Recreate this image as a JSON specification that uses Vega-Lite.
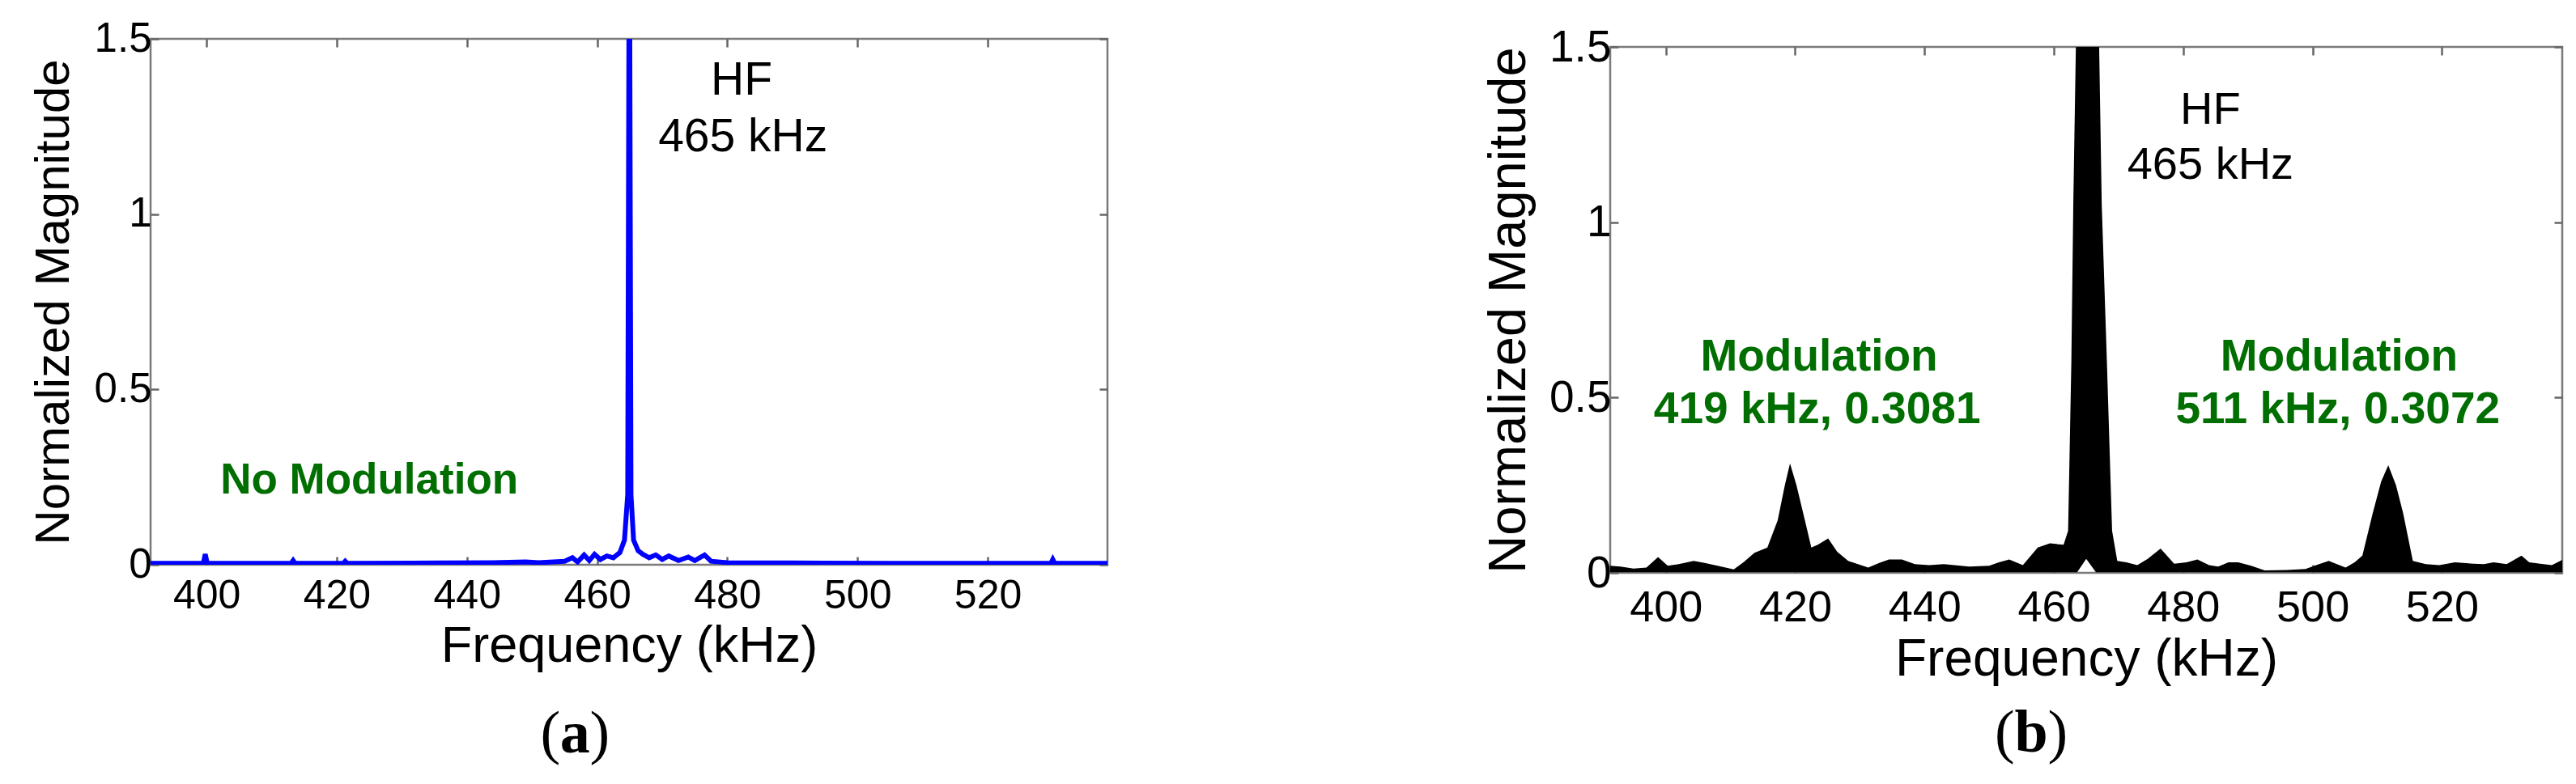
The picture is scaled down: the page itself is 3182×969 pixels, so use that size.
{
  "$schema": "https://vega.github.io/schema/vega-lite/v6.json",
  "background": "white",
  "padding": {"left": 34, "top": 20, "right": 5, "bottom": 5},
  "bounds": "flush",
  "spacing": 621,
  "config": {
    "view": {"stroke": "#7a7a7a", "strokeWidth": 2.5},
    "axis": {"domain": false, "grid": false, "tickColor": "#666666", "tickWidth": 2.5, "tickSize": -10,
      "labelColor": "#000000", "titleColor": "#000000", "labelFont": "Liberation Sans", "titleFont": "Liberation Sans",
      "titleFontWeight": "normal", "labelFlush": false, "labelOverlap": false}
  },
  "hconcat": [
    {
      "width": 1182, "height": 650,
      "layer": [
        {
          "data": {"values": [
            {"f": 391.4, "m": 0.004}, {"f": 399.5, "m": 0.004}, {"f": 399.8, "m": 0.03}, {"f": 400.1, "m": 0.004},
            {"f": 413, "m": 0.004}, {"f": 413.3, "m": 0.012}, {"f": 413.6, "m": 0.004}, {"f": 421, "m": 0.004},
            {"f": 421.3, "m": 0.01}, {"f": 421.6, "m": 0.004}, {"f": 436, "m": 0.005}, {"f": 444, "m": 0.006},
            {"f": 449, "m": 0.008}, {"f": 451, "m": 0.006}, {"f": 455, "m": 0.01}, {"f": 456.2, "m": 0.02},
            {"f": 457, "m": 0.008}, {"f": 458, "m": 0.028}, {"f": 458.8, "m": 0.012}, {"f": 459.6, "m": 0.03},
            {"f": 460.5, "m": 0.015}, {"f": 461.5, "m": 0.025}, {"f": 462.5, "m": 0.02}, {"f": 463.5, "m": 0.035},
            {"f": 464.2, "m": 0.07}, {"f": 464.7, "m": 0.2}, {"f": 464.95, "m": 2.0}, {"f": 465.2, "m": 0.2},
            {"f": 465.6, "m": 0.07}, {"f": 466.3, "m": 0.04}, {"f": 467, "m": 0.03}, {"f": 468, "m": 0.02},
            {"f": 469, "m": 0.028}, {"f": 470, "m": 0.015}, {"f": 471, "m": 0.025}, {"f": 472.5, "m": 0.012},
            {"f": 474, "m": 0.022}, {"f": 475, "m": 0.012}, {"f": 476.5, "m": 0.028}, {"f": 477.5, "m": 0.01},
            {"f": 480, "m": 0.006}, {"f": 490, "m": 0.005}, {"f": 505, "m": 0.004}, {"f": 520, "m": 0.004},
            {"f": 529.7, "m": 0.004}, {"f": 530, "m": 0.015}, {"f": 530.3, "m": 0.004}, {"f": 538.4, "m": 0.004}
          ]},
          "mark": {"type": "line", "color": "#0000ff", "strokeWidth": 6, "clip": true},
          "encoding": {
            "x": {"field": "f", "type": "quantitative", "scale": {"domain": [391.4, 538.4], "nice": false, "zero": false},
              "axis": {"orient": "bottom", "title": "Frequency (kHz)", "values": [400, 420, 440, 460, 480, 500, 520],
                "labelFontSize": 50, "labelPadding": 23, "titleFontSize": 63, "titlePadding": 6}},
            "y": {"field": "m", "type": "quantitative", "scale": {"domain": [0, 1.5], "nice": false, "zero": false},
              "axis": {"orient": "left", "title": "Normalized Magnitude", "values": [0, 0.5, 1, 1.5], "labelExpr": "'' + datum.value",
                "labelFontSize": 51, "labelPadding": 9, "titleFontSize": 60, "titlePadding": 19}}
          }
        },
        {
          "data": {"values": [
            {"f": 482.2, "m": 1.38, "t": "HF"},
            {"f": 482.4, "m": 1.218, "t": "465 kHz"}
          ]},
          "mark": {"type": "text", "font": "Liberation Sans", "fontSize": 57, "color": "#000000", "align": "center", "baseline": "middle"},
          "encoding": {
            "x": {"field": "f", "type": "quantitative", "scale": {"domain": [391.4, 538.4], "nice": false, "zero": false},
              "axis": {"orient": "top", "labels": false, "title": null, "values": [400, 420, 440, 460, 480, 500, 520]}},
            "y": {"field": "m", "type": "quantitative", "scale": {"domain": [0, 1.5], "nice": false, "zero": false},
              "axis": {"orient": "right", "labels": false, "title": null, "values": [0, 0.5, 1, 1.5]}},
            "text": {"field": "t"}
          }
        },
        {
          "data": {"values": [{"f": 425.0, "m": 0.239, "t": "No Modulation"}]},
          "mark": {"type": "text", "font": "Liberation Sans", "fontSize": 53, "fontWeight": "bold", "color": "#006e00", "align": "center", "baseline": "middle"},
          "encoding": {
            "x": {"field": "f", "type": "quantitative", "axis": null},
            "y": {"field": "m", "type": "quantitative", "axis": null},
            "text": {"field": "t"}
          }
        },
        {
          "data": {"values": [{"f": 452.8, "m": -0.485, "t": "("}, {"f": 460.4, "m": -0.485, "t": ")"}]},
          "mark": {"type": "text", "font": "Liberation Serif", "fontSize": 74, "color": "#000000", "align": "center", "baseline": "middle"},
          "encoding": {
            "x": {"field": "f", "type": "quantitative", "axis": null},
            "y": {"field": "m", "type": "quantitative", "axis": null},
            "text": {"field": "t"}
          }
        },
        {
          "data": {"values": [{"f": 456.6, "m": -0.485, "t": "a"}]},
          "mark": {"type": "text", "font": "Liberation Serif", "fontSize": 74, "fontWeight": "bold", "color": "#000000", "align": "center", "baseline": "middle"},
          "encoding": {
            "x": {"field": "f", "type": "quantitative", "axis": null},
            "y": {"field": "m", "type": "quantitative", "axis": null},
            "text": {"field": "t"}
          }
        }
      ],
      "resolve": {"axis": {"x": "independent", "y": "independent"}}
    },
    {
      "vconcat": [
        {
          "width": 1176, "height": 10,
          "view": {"stroke": null},
          "data": {"values": [{"t": ""}]},
          "mark": {"type": "text"},
          "encoding": {"text": {"field": "t"}}
        },
        {
          "width": 1176, "height": 650,
          "layer": [
            {
              "data": {"values": [
                {"f": 391.4, "hi": 0.02, "lo": 0.002}, {"f": 393, "hi": 0.018, "lo": 0.002}, {"f": 395, "hi": 0.012, "lo": 0.002},
                {"f": 397, "hi": 0.015, "lo": 0.002}, {"f": 398.8, "hi": 0.045, "lo": 0.002}, {"f": 400.3, "hi": 0.02, "lo": 0.002},
                {"f": 402, "hi": 0.025, "lo": 0.002}, {"f": 404.3, "hi": 0.034, "lo": 0.002}, {"f": 406, "hi": 0.028, "lo": 0.002},
                {"f": 408, "hi": 0.02, "lo": 0.002}, {"f": 410.5, "hi": 0.01, "lo": 0.002}, {"f": 412, "hi": 0.03, "lo": 0.002},
                {"f": 413.7, "hi": 0.057, "lo": 0.002}, {"f": 415.7, "hi": 0.072, "lo": 0.002}, {"f": 417.3, "hi": 0.15, "lo": 0.002},
                {"f": 418.4, "hi": 0.25, "lo": 0.002}, {"f": 419.2, "hi": 0.312, "lo": 0.002}, {"f": 420.2, "hi": 0.25, "lo": 0.002},
                {"f": 421.5, "hi": 0.15, "lo": 0.002}, {"f": 422.5, "hi": 0.072, "lo": 0.002}, {"f": 423.5, "hi": 0.08, "lo": 0.002},
                {"f": 425.1, "hi": 0.098, "lo": 0.002}, {"f": 426.5, "hi": 0.06, "lo": 0.002}, {"f": 428.2, "hi": 0.034, "lo": 0.002},
                {"f": 431.3, "hi": 0.015, "lo": 0.002}, {"f": 433, "hi": 0.028, "lo": 0.002}, {"f": 434.5, "hi": 0.038, "lo": 0.002},
                {"f": 436.5, "hi": 0.038, "lo": 0.002}, {"f": 438.5, "hi": 0.025, "lo": 0.002}, {"f": 440.7, "hi": 0.022, "lo": 0.002},
                {"f": 443, "hi": 0.025, "lo": 0.002}, {"f": 446.9, "hi": 0.018, "lo": 0.002}, {"f": 450, "hi": 0.02, "lo": 0.002},
                {"f": 451.5, "hi": 0.03, "lo": 0.002}, {"f": 453.1, "hi": 0.038, "lo": 0.002}, {"f": 455.2, "hi": 0.022, "lo": 0.002},
                {"f": 456.5, "hi": 0.05, "lo": 0.002}, {"f": 457.5, "hi": 0.072, "lo": 0.002}, {"f": 459.4, "hi": 0.084, "lo": 0.002},
                {"f": 461.5, "hi": 0.08, "lo": 0.002}, {"f": 462.2, "hi": 0.12, "lo": 0.002}, {"f": 462.7, "hi": 0.6, "lo": 0.002},
                {"f": 463.0, "hi": 1.05, "lo": 0.002}, {"f": 463.4, "hi": 1.5, "lo": 0.002}, {"f": 463.6, "hi": 1.8, "lo": 0.002},
                {"f": 465.0, "hi": 1.8, "lo": 0.04},
                {"f": 466.5, "hi": 1.8, "lo": 0.002}, {"f": 466.8, "hi": 1.8, "lo": 0.002}, {"f": 467.0, "hi": 1.5, "lo": 0.002},
                {"f": 467.4, "hi": 1.05, "lo": 0.002}, {"f": 468.2, "hi": 0.6, "lo": 0.002}, {"f": 469.0, "hi": 0.12, "lo": 0.002},
                {"f": 469.8, "hi": 0.034, "lo": 0.002}, {"f": 471.2, "hi": 0.03, "lo": 0.002}, {"f": 472.9, "hi": 0.022, "lo": 0.002},
                {"f": 474.5, "hi": 0.04, "lo": 0.002}, {"f": 476.5, "hi": 0.069, "lo": 0.002}, {"f": 478.6, "hi": 0.026, "lo": 0.002},
                {"f": 480.5, "hi": 0.03, "lo": 0.002}, {"f": 482.2, "hi": 0.038, "lo": 0.002}, {"f": 484, "hi": 0.022, "lo": 0.002},
                {"f": 485.4, "hi": 0.018, "lo": 0.002}, {"f": 487, "hi": 0.03, "lo": 0.002}, {"f": 488.5, "hi": 0.03, "lo": 0.002},
                {"f": 490.5, "hi": 0.02, "lo": 0.002}, {"f": 492.6, "hi": 0.007, "lo": 0.002}, {"f": 496, "hi": 0.008, "lo": 0.002},
                {"f": 498.9, "hi": 0.011, "lo": 0.002}, {"f": 501, "hi": 0.025, "lo": 0.002}, {"f": 502.5, "hi": 0.034, "lo": 0.002},
                {"f": 505.1, "hi": 0.015, "lo": 0.002}, {"f": 506.5, "hi": 0.03, "lo": 0.002}, {"f": 507.7, "hi": 0.049, "lo": 0.002},
                {"f": 509.3, "hi": 0.17, "lo": 0.002}, {"f": 510.6, "hi": 0.26, "lo": 0.002}, {"f": 511.7, "hi": 0.307, "lo": 0.002},
                {"f": 512.9, "hi": 0.25, "lo": 0.002}, {"f": 514.0, "hi": 0.17, "lo": 0.002}, {"f": 515.5, "hi": 0.034, "lo": 0.002},
                {"f": 517.5, "hi": 0.025, "lo": 0.002}, {"f": 519.6, "hi": 0.022, "lo": 0.002}, {"f": 522, "hi": 0.03, "lo": 0.002},
                {"f": 524.9, "hi": 0.026, "lo": 0.002}, {"f": 526.5, "hi": 0.025, "lo": 0.002}, {"f": 528.0, "hi": 0.03, "lo": 0.002},
                {"f": 530, "hi": 0.025, "lo": 0.002}, {"f": 532.3, "hi": 0.049, "lo": 0.002}, {"f": 533.5, "hi": 0.03, "lo": 0.002},
                {"f": 535.2, "hi": 0.026, "lo": 0.002}, {"f": 537, "hi": 0.022, "lo": 0.002}, {"f": 538.6, "hi": 0.037, "lo": 0.002}
              ]},
              "mark": {"type": "area", "color": "#000000", "clip": true},
              "encoding": {
                "x": {"field": "f", "type": "quantitative", "scale": {"domain": [391.4, 538.6], "nice": false, "zero": false},
                  "axis": {"orient": "bottom", "title": "Frequency (kHz)", "values": [400, 420, 440, 460, 480, 500, 520],
                    "labelFontSize": 54, "labelPadding": 26, "titleFontSize": 64, "titlePadding": 5}},
                "y": {"field": "hi", "type": "quantitative", "scale": {"domain": [0, 1.5], "nice": false, "zero": false},
                  "axis": {"orient": "left", "title": "Normalized Magnitude", "values": [0, 0.5, 1, 1.5], "labelExpr": "'' + datum.value",
                    "labelFontSize": 55, "labelPadding": 9, "titleFontSize": 65, "titlePadding": 16}},
                "y2": {"field": "lo"}
              }
            },
            {
              "data": {"values": [
                {"f": 484.2, "m": 1.32, "t": "HF"},
                {"f": 484.2, "m": 1.163, "t": "465 kHz"}
              ]},
              "mark": {"type": "text", "font": "Liberation Sans", "fontSize": 56, "color": "#000000", "align": "center", "baseline": "middle"},
              "encoding": {
                "x": {"field": "f", "type": "quantitative", "scale": {"domain": [391.4, 538.6], "nice": false, "zero": false},
                  "axis": {"orient": "top", "labels": false, "title": null, "values": [400, 420, 440, 460, 480, 500, 520]}},
                "y": {"field": "m", "type": "quantitative", "scale": {"domain": [0, 1.5], "nice": false, "zero": false},
                  "axis": {"orient": "right", "labels": false, "title": null, "values": [0, 0.5, 1, 1.5]}},
                "text": {"field": "t"}
              }
            },
            {
              "data": {"values": [
                {"f": 423.7, "m": 0.616, "t": "Modulation"},
                {"f": 423.4, "m": 0.466, "t": "419 kHz, 0.3081"},
                {"f": 504.1, "m": 0.616, "t": "Modulation"},
                {"f": 503.9, "m": 0.466, "t": "511 kHz, 0.3072"}
              ]},
              "mark": {"type": "text", "font": "Liberation Sans", "fontSize": 55, "fontWeight": "bold", "color": "#006e00", "align": "center", "baseline": "middle"},
              "encoding": {
                "x": {"field": "f", "type": "quantitative", "axis": null},
                "y": {"field": "m", "type": "quantitative", "axis": null},
                "text": {"field": "t"}
              }
            },
            {
              "data": {"values": [{"f": 452.4, "m": -0.459, "t": "("}, {"f": 460.6, "m": -0.459, "t": ")"}]},
              "mark": {"type": "text", "font": "Liberation Serif", "fontSize": 74, "color": "#000000", "align": "center", "baseline": "middle"},
              "encoding": {
                "x": {"field": "f", "type": "quantitative", "axis": null},
                "y": {"field": "m", "type": "quantitative", "axis": null},
                "text": {"field": "t"}
              }
            },
            {
              "data": {"values": [{"f": 456.5, "m": -0.459, "t": "b"}]},
              "mark": {"type": "text", "font": "Liberation Serif", "fontSize": 74, "fontWeight": "bold", "color": "#000000", "align": "center", "baseline": "middle"},
              "encoding": {
                "x": {"field": "f", "type": "quantitative", "axis": null},
                "y": {"field": "m", "type": "quantitative", "axis": null},
                "text": {"field": "t"}
              }
            }
          ],
          "resolve": {"axis": {"x": "independent", "y": "independent"}}
        }
      ],
      "spacing": 0,
      "bounds": "flush"
    }
  ]
}
